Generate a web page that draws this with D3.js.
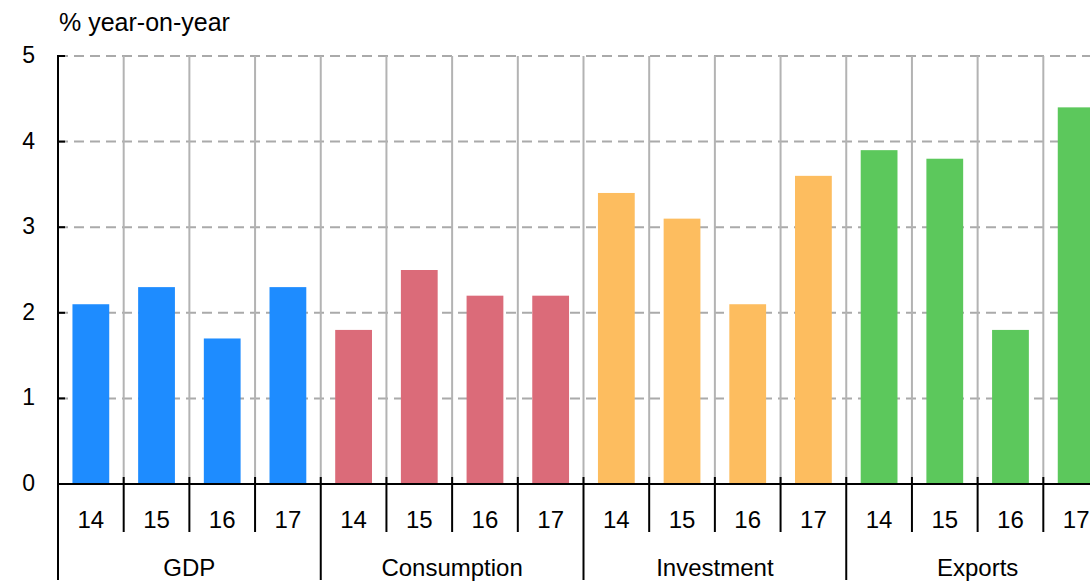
<!DOCTYPE html>
<meta charset="utf-8">
<style>
body { margin: 0; overflow: hidden; background: #fff; }
svg { font-family: 'Liberation Sans', Arial, sans-serif; }
.grid-h line { stroke: #aaa; stroke-width: 2; stroke-dasharray: 10 6; }
.grid-v line { stroke: #b3b3b3; stroke-width: 2; }
.lbl { font-size: 24px; fill: #000; }
.ylbl { font-size: 23px; fill: #000; }
.title { font-size: 25px; fill: #000; }
</style>
<body>
<div id="chart"></div>
<script src="https://cdn.jsdelivr.net/npm/d3@7"></script>
<script>
var groups = ['GDP', 'Consumption', 'Investment', 'Exports'];
var years = ['14', '15', '16', '17'];
var colors = ['#1e8cff', '#db6b79', '#fdbd5f', '#5cc85c'];
var gdp = [2.1, 2.3, 1.7, 2.3];
var consumption = [1.8, 2.5, 2.2, 2.2];
var investment = [3.4, 3.1, 2.1, 3.6];
var exportsVals = [3.9, 3.8, 1.8, 4.4];
var yTicks = [0, 1, 2, 3, 4, 5];

var series = [gdp, consumption, investment, exportsVals];
var rows = [];
series.forEach(function(s, g) {
  s.forEach(function(v, i) {
    rows.push({ key: groups[g] + years[i], group: g, year: years[i], value: v });
  });
});

var W = 1090, H = 583;
var mLeft = 58, mRight = 1109, mTop = 56, mBottom = 484;

var svg = d3.select('#chart').append('svg')
  .attr('width', W)
  .attr('height', H);

var x = d3.scaleBand()
  .domain(rows.map(function(d) { return d.key; }))
  .range([mLeft, mRight])
  .paddingInner(0.44)
  .paddingOuter(0.22);

var step = (mRight - mLeft) / rows.length;

var y = d3.scaleLinear().domain([0, 5]).range([mBottom, mTop]);

// horizontal dashed grid
svg.append('g').attr('class', 'grid-h')
  .selectAll('line').data(yTicks.filter(function(d) { return d > 0; }))
  .enter().append('line')
  .attr('x1', mLeft).attr('x2', mRight)
  .attr('y1', function(d) { return y(d); })
  .attr('y2', function(d) { return y(d); });

// vertical solid grid at slot boundaries
var bounds = d3.range(1, rows.length + 1).map(function(i) { return mLeft + i * step; });
svg.append('g').attr('class', 'grid-v')
  .selectAll('line').data(bounds)
  .enter().append('line')
  .attr('x1', function(d) { return d; }).attr('x2', function(d) { return d; })
  .attr('y1', mTop).attr('y2', mBottom);

// bars
svg.append('g')
  .selectAll('rect').data(rows)
  .enter().append('rect')
  .attr('x', function(d) { return x(d.key); })
  .attr('width', x.bandwidth())
  .attr('y', function(d) { return y(d.value); })
  .attr('height', function(d) { return y(0) - y(d.value); })
  .attr('fill', function(d) { return colors[d.group]; });

// y axis
svg.append('line')
  .attr('x1', mLeft).attr('x2', mLeft)
  .attr('y1', mTop - 1).attr('y2', 580)
  .attr('stroke', '#000').attr('stroke-width', 2);

svg.append('g').selectAll('line').data(yTicks)
  .enter().append('line')
  .attr('x1', mLeft).attr('x2', mLeft + 7)
  .attr('y1', function(d) { return y(d); })
  .attr('y2', function(d) { return y(d); })
  .attr('stroke', '#000').attr('stroke-width', 2);

svg.append('g').selectAll('text').data(yTicks)
  .enter().append('text')
  .attr('class', 'ylbl')
  .attr('x', 35)
  .attr('y', function(d) { return y(d) + 7; })
  .attr('text-anchor', 'end')
  .text(function(d) { return d; });

// x axis line
svg.append('line')
  .attr('x1', mLeft).attr('x2', mRight)
  .attr('y1', mBottom).attr('y2', mBottom)
  .attr('stroke', '#000').attr('stroke-width', 2);

// year ticks and group separators
svg.append('g').selectAll('line').data(bounds)
  .enter().append('line')
  .attr('x1', function(d) { return d; }).attr('x2', function(d) { return d; })
  .attr('y1', mBottom - 7)
  .attr('y2', function(d, i) { return (i + 1) % years.length === 0 ? 580 : 532; })
  .attr('stroke', '#000').attr('stroke-width', 2);

// year labels
svg.append('g').selectAll('text').data(rows)
  .enter().append('text')
  .attr('class', 'lbl')
  .attr('x', function(d) { return x(d.key) + x.bandwidth() / 2; })
  .attr('y', 528)
  .attr('text-anchor', 'middle')
  .text(function(d) { return d.year; });

// group labels
svg.append('g').selectAll('text').data(groups)
  .enter().append('text')
  .attr('class', 'lbl')
  .attr('x', function(d, i) { return mLeft + (i * 4 + 2) * step; })
  .attr('y', 576)
  .attr('text-anchor', 'middle')
  .text(function(d) { return d; });

svg.append('text')
  .attr('class', 'title')
  .attr('x', 59)
  .attr('y', 31)
  .text('% year-on-year');
</script>
</body>
